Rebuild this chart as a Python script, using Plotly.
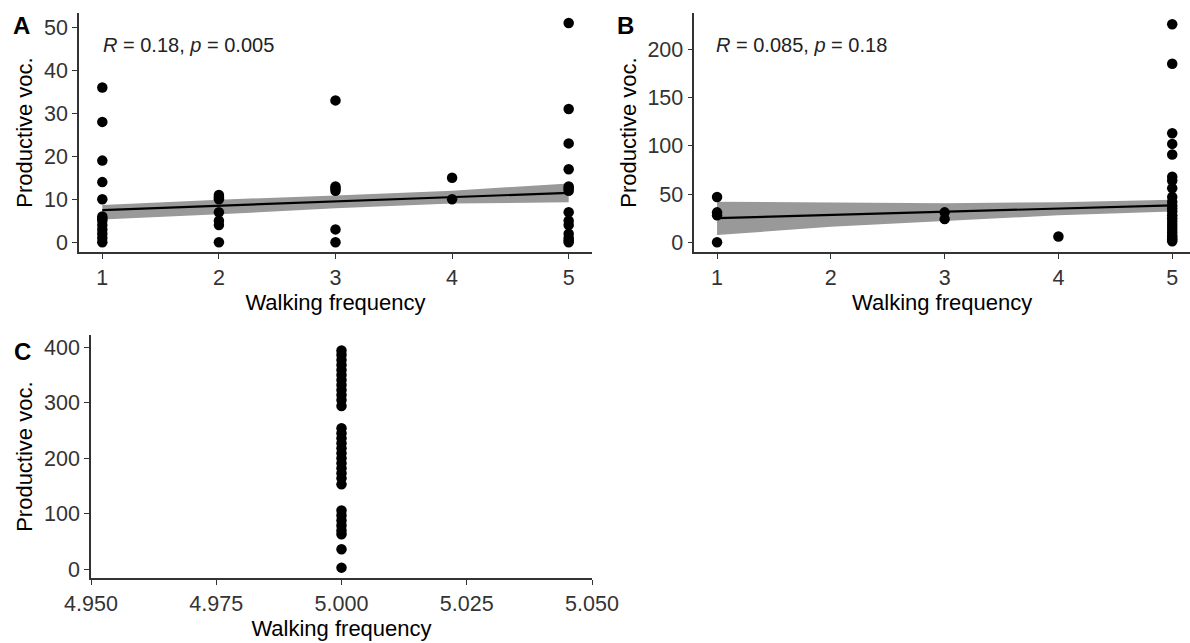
import plotly.graph_objects as go

# ---- Data ----
a_x = [1]*13 + [2]*7 + [3]*6 + [4]*2 + [5]*14
a_y = [36, 28, 19, 14, 10, 6, 5.5, 5, 4, 3, 2, 1, 0,
       11, 10.5, 10, 7, 5, 4, 0,
       33, 13, 12.5, 12, 3, 0,
       15, 10,
       51, 31, 23, 17, 13, 12.5, 12, 7, 5, 4, 2, 1, 0.5, 0]
a_fit_x = [1, 2, 3, 4, 5]
a_fit_y = [7.5, 8.5, 9.5, 10.5, 11.5]
a_fit_lo = [5.3, 6.5, 7.9, 9.0, 9.3]
a_fit_hi = [8.7, 9.9, 10.9, 12.0, 13.7]

b_x = [1]*4 + [3]*2 + [4] + [5]*24
b_y = [47, 31, 28, 0,
       31, 24,
       6,
       226, 185, 113, 102, 91, 68, 64, 56, 47, 42, 38, 35, 32, 28, 25, 22,
       19, 16, 13, 10, 7, 5, 3, 1]
b_fit_x = [1, 2, 3, 4, 5]
b_fit_y = [25, 28.3, 31.6, 35, 38.3]
b_fit_lo = [7.5, 16, 22, 28, 32]
b_fit_hi = [42, 41.5, 40.5, 41.5, 44]

c_y = [394, 386, 377, 368, 359, 350, 341, 332, 323, 314, 305, 294,
       254, 245, 236, 227, 218, 209, 200, 191, 182, 173, 164, 153,
       106, 97, 88, 79, 70, 63, 36, 3]
c_x = [5.0]*len(c_y)

a_ticks = [0, 10, 20, 30, 40, 50]
b_ticks = [0, 50, 100, 150, 200]
c_ticks = [0, 100, 200, 300, 400]
xticks_ab = [1, 2, 3, 4, 5]
c_xticks = [4.950, 4.975, 5.000, 5.025, 5.050]

FONT = "Liberation Sans, Arial, sans-serif"
BAND = "rgb(153,153,153)"

fig = go.Figure()

def add_panel(xs, ys, fx, fy, flo, fhi, xa, ya):
    if fx is not None:
        fig.add_trace(go.Scatter(x=fx + fx[::-1], y=fhi + flo[::-1], fill="toself",
                                 fillcolor=BAND, line=dict(width=0), mode="lines",
                                 hoverinfo="skip", showlegend=False, xaxis=xa, yaxis=ya))
        fig.add_trace(go.Scatter(x=fx, y=fy, mode="lines", line=dict(color="black", width=2.2),
                                 showlegend=False, xaxis=xa, yaxis=ya))
    fig.add_trace(go.Scatter(x=xs, y=ys, mode="markers",
                             marker=dict(color="black", size=10.5, line=dict(width=0)),
                             showlegend=False, xaxis=xa, yaxis=ya))

add_panel(a_x, a_y, a_fit_x, a_fit_y, a_fit_lo, a_fit_hi, "x", "y")
add_panel(b_x, b_y, b_fit_x, b_fit_y, b_fit_lo, b_fit_hi, "x2", "y2")
add_panel(c_x, c_y, None, None, None, None, "x3", "y3")

W, H = 1190, 643
def px_x(p): return p / W
def px_y(p): return 1 - p / H

common = dict(showline=True, linecolor="#333333", linewidth=1.5, ticks="outside",
              ticklen=5, tickcolor="#333333", tickwidth=1.3, showgrid=False, zeroline=False,
              tickfont=dict(family=FONT, size=21.5, color="#333333"), automargin=False,
              mirror=False)
xtitle = dict(text="Walking frequency", font=dict(family=FONT, size=22, color="black"), standoff=4)
ytitle = dict(text="Productive voc.", font=dict(family=FONT, size=22, color="black"), standoff=5)

fig.update_layout(
    width=W, height=H, margin=dict(l=0, r=0, t=0, b=0),
    paper_bgcolor="white", plot_bgcolor="white",
    xaxis=dict(domain=[px_x(79), px_x(592)], range=[0.8, 5.2], tickvals=xticks_ab,
               anchor="y", title=xtitle, **common),
    yaxis=dict(domain=[px_y(252.3), px_y(12.7)], range=[-2.33, 53.4], tickvals=a_ticks,
               anchor="x", title=ytitle, **common),
    xaxis2=dict(domain=[px_x(694.3), 1.0], range=[0.8, 5.2 - 5/114], tickvals=xticks_ab,
                anchor="y2", title=xtitle, **common),
    yaxis2=dict(domain=[px_y(252.3), px_y(12.7)], range=[-10.4, 238], tickvals=b_ticks,
                anchor="x2", title=ytitle, **common),
    xaxis3=dict(domain=[px_x(91), px_x(592)], range=[4.95, 5.05], tickvals=c_xticks,
                tickformat=".3f", anchor="y3", title=xtitle, **common),
    yaxis3=dict(domain=[px_y(578.3), px_y(335)], range=[-16.2, 422], tickvals=c_ticks,
                anchor="x3", title=ytitle, **common),
)

ann_font = dict(family=FONT, size=20, color="#222222")
fig.add_annotation(x=px_x(101), y=px_y(45), xref="paper", yref="paper", xanchor="left",
                   yanchor="middle", showarrow=False, font=ann_font,
                   text="<i>R</i> = 0.18, <i>p</i> = 0.005")
fig.add_annotation(x=px_x(714), y=px_y(45), xref="paper", yref="paper", xanchor="left",
                   yanchor="middle", showarrow=False, font=ann_font,
                   text="<i>R</i> = 0.085, <i>p</i> = 0.18")

lab_font = dict(family=FONT, size=24, color="black")
for t, x, y in [("A", 21, 26), ("B", 625, 25), ("C", 22, 351)]:
    fig.add_annotation(x=px_x(x), y=px_y(y), xref="paper", yref="paper", xanchor="center",
                       yanchor="middle", showarrow=False, font=lab_font, text="<b>%s</b>" % t)

fig.write_html("out.html")
